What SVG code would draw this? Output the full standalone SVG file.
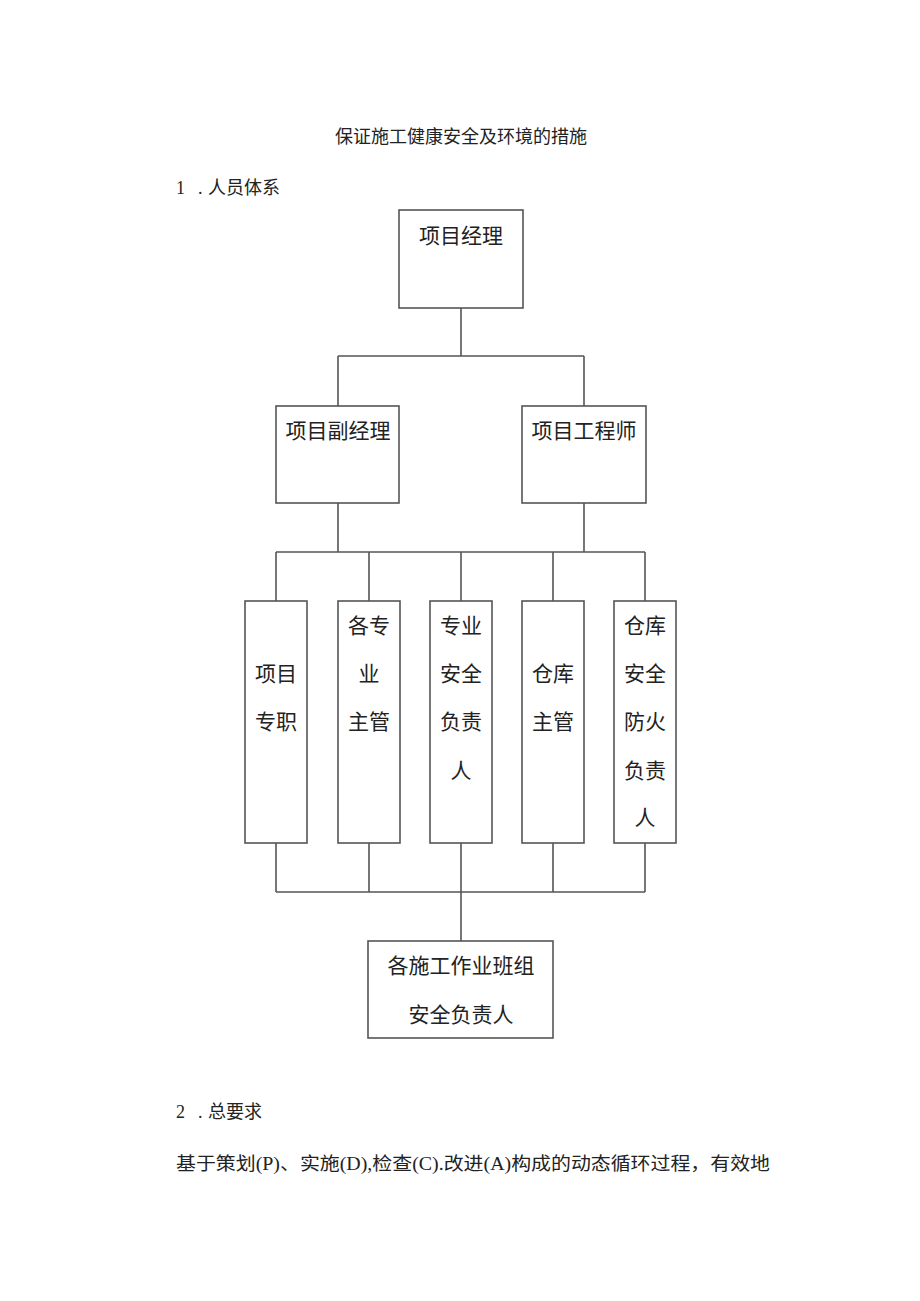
<svg xmlns="http://www.w3.org/2000/svg" width="920" height="1301" viewBox="0 0 920 1301">
<style>
.box{fill:#fff;stroke:#555;stroke-width:1.6}
.ln{fill:none;stroke:#555;stroke-width:1.6}
.t{font-family:"Liberation Serif","Noto Sans CJK SC",serif;font-size:21px;fill:#222;text-anchor:middle;dominant-baseline:central}
.p{font-family:"Liberation Serif","Noto Sans CJK SC",serif;font-size:18px;fill:#222;dominant-baseline:central}
</style>
<rect width="920" height="1301" fill="#fff"/>
<text class="p" x="461" y="137" text-anchor="middle">保证施工健康安全及环境的措施</text>
<text class="p" y="188"><tspan x="176">1</tspan><tspan x="198">.</tspan><tspan x="208">人员体系</tspan></text>
<g id="connectors">
<path class="ln" d="M461 308V356M338 356H584M338 356V406M584 356V406"/>
<path class="ln" d="M338 503V552M584 503V552M276 552H645M276 552V601M369 552V601M461 552V601M553 552V601M645 552V601"/>
<path class="ln" d="M276 843V892M369 843V892M461 843V892M553 843V892M645 843V892M276 892H645M461 892V941"/>
</g>
<g id="n-pm"><rect class="box" x="399" y="210" width="124" height="98"/><text class="t" x="461" y="236">项目经理</text></g>
<g id="n-dpm"><rect class="box" x="276" y="406" width="123" height="97"/><text class="t" x="338" y="431">项目副经理</text></g>
<g id="n-eng"><rect class="box" x="522" y="406" width="124" height="97"/><text class="t" x="584" y="431">项目工程师</text></g>
<g id="n-a"><rect class="box" x="245" y="601" width="62" height="242"/><text class="t" x="276" y="674">项目</text><text class="t" x="276" y="722">专职</text></g>
<g id="n-b"><rect class="box" x="338" y="601" width="62" height="242"/><text class="t" x="369" y="626">各专</text><text class="t" x="369" y="674">业</text><text class="t" x="369" y="722">主管</text></g>
<g id="n-c"><rect class="box" x="430" y="601" width="62" height="242"/><text class="t" x="461" y="626">专业</text><text class="t" x="461" y="674">安全</text><text class="t" x="461" y="722">负责</text><text class="t" x="461" y="771">人</text></g>
<g id="n-d"><rect class="box" x="522" y="601" width="62" height="242"/><text class="t" x="553" y="674">仓库</text><text class="t" x="553" y="722">主管</text></g>
<g id="n-e"><rect class="box" x="614" y="601" width="62" height="242"/><text class="t" x="645" y="626">仓库</text><text class="t" x="645" y="674">安全</text><text class="t" x="645" y="722">防火</text><text class="t" x="645" y="771">负责</text><text class="t" x="645" y="818">人</text></g>
<g id="n-team"><rect class="box" x="368" y="941" width="185" height="97"/><text class="t" x="461" y="966">各施工作业班组</text><text class="t" x="461" y="1015">安全负责人</text></g>
<text class="p" y="1112"><tspan x="176">2</tspan><tspan x="198">.</tspan><tspan x="208">总要求</tspan></text>
<text class="p" x="176" y="1164" textLength="594" lengthAdjust="spacingAndGlyphs">基于策划(P)、实施(D),检查(C).改进(A)构成的动态循环过程，有效地</text>
</svg>
